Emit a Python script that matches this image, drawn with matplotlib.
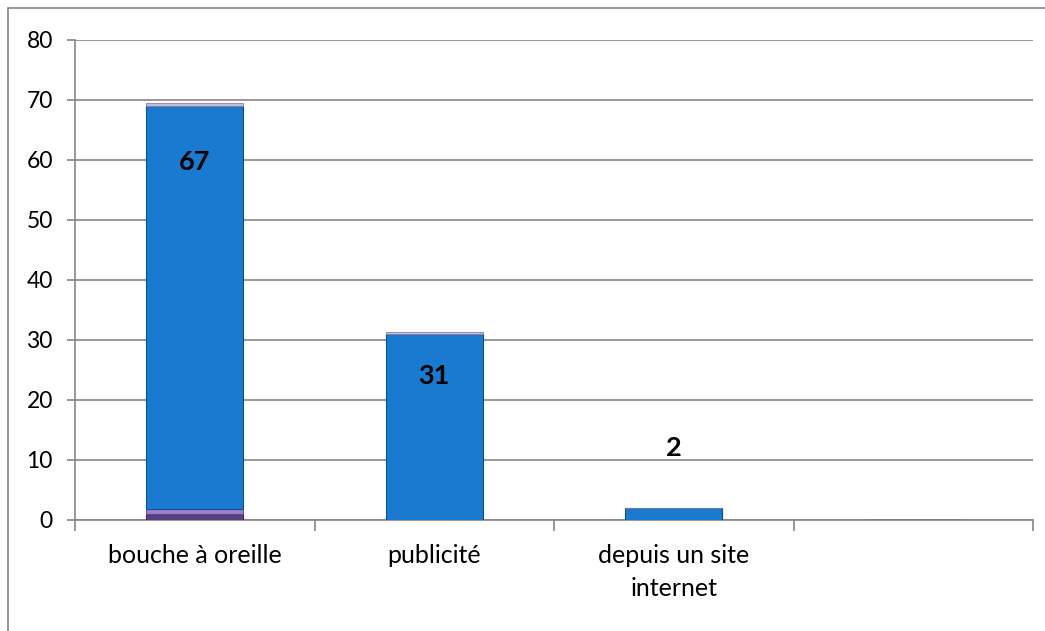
import matplotlib.pyplot as plt
from matplotlib.patches import Rectangle

# Data
categories = ["bouche à oreille", "publicité", "depuis un site\ninternet", ""]
purple_dark = [1.0, 0, 0, 0]
purple_light = [0.8, 0, 0, 0]
blue = [67.2, 31, 2, 0]
lilac = [0.5, 0.3, 0, 0]
labels = ["67", "31", "2", ""]
label_y = [59.7, 24, 12, 0]

plt.rcParams['font.family'] = ['Lato', 'DejaVu Sans']

fig = plt.figure(figsize=(10.45, 6.31), dpi=100)
ax = fig.add_axes([75 / 1045, 111 / 631, 958 / 1045, 480 / 631])

# outer chart border
fig.patches.append(Rectangle((8 / 1045, -0.1), 1.2, (631 - 8) / 631 + 0.1,
                             transform=fig.transFigure, fill=False,
                             edgecolor='#868686', linewidth=1.2))

x = range(len(categories))
w = 0.405
b1 = purple_dark
b2 = [a + b for a, b in zip(b1, purple_light)]
b3 = [a + b for a, b in zip(b2, blue)]

ax.bar(x, purple_dark, width=w, color='#5a3f86', edgecolor='#3e2a60', linewidth=0.8, zorder=3)
ax.bar(x, purple_light, width=w, bottom=b1, color='#9b7fc7', edgecolor='#5a3f86', linewidth=0.6, zorder=3)
ax.bar(x, blue, width=w, bottom=b2, color='#1a7ad0', edgecolor='#0d4f8c', linewidth=0.8, zorder=3)
ax.bar(x, lilac, width=w, bottom=b3, color='#c9bcd9', edgecolor='#8a7fa0', linewidth=0.6, zorder=3)

for i, (t, yv) in enumerate(zip(labels, label_y)):
    if t:
        ax.text(i, yv, t, ha='center', va='center', fontsize=19.5, fontweight='bold', zorder=4)

ax.set_xlim(-0.5, len(categories) - 0.5)
ax.set_ylim(0, 80)
ax.set_yticks(range(0, 81, 10))
ax.yaxis.grid(True, color='#868686', linewidth=1.2, zorder=0)
ax.set_xticks(x)
ax.set_xticklabels(categories, fontsize=18, linespacing=1.55)
ax.tick_params(axis='x', length=0, pad=17)
ax.set_xticks([i - 0.5 for i in range(len(categories) + 1)], minor=True)
ax.tick_params(axis='x', which='minor', length=8, width=1.2, color='#868686')
ax.tick_params(axis='y', length=6, width=1.2, color='#868686', labelsize=16.5, pad=10)

for s in ['top', 'right']:
    ax.spines[s].set_visible(False)
for s in ['left', 'bottom']:
    ax.spines[s].set_color('#868686')
    ax.spines[s].set_linewidth(1.2)

plt.savefig('out.png', dpi=100)
